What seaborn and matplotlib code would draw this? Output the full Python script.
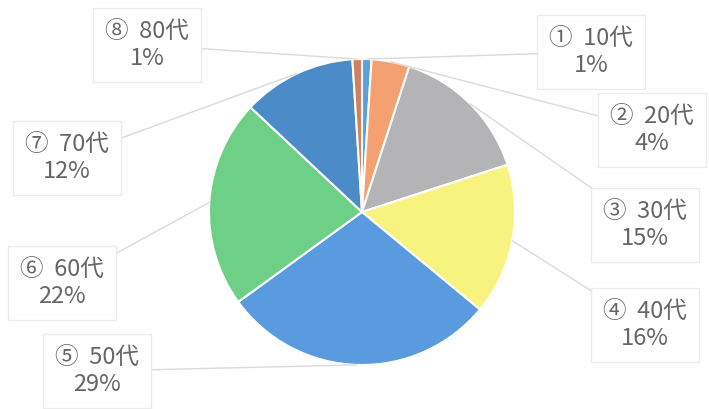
import numpy as np
import matplotlib
matplotlib.use("Agg")
import matplotlib.pyplot as plt
import seaborn as sns

# data (clockwise from 12 o'clock)
ages = ["10代", "20代", "30代", "40代", "50代", "60代", "70代", "80代"]
marks = ["①", "②", "③", "④", "⑤", "⑥", "⑦", "⑧"]
shares = [1, 4, 15, 16, 29, 22, 12, 1]

colors = ["#5ba0dc", "#f4a070", "#b4b4b6", "#f8f27e",
          "#5a9be0", "#6ecf86", "#4b8cc8", "#d08060"]

# label centres in pixel space (x, y from top)
label_xy = [(591, 52), (652, 130), (645, 225), (645, 325),
            (97, 371), (62, 283), (67, 158), (147, 45)]

sns.set_theme(style="white")
plt.rcParams["font.family"] = ["Noto Sans CJK JP", "DejaVu Sans"]

W, H = 709, 409
fig = plt.figure(figsize=(W / 100, H / 100), dpi=100)
ax = fig.add_axes([0, 0, 1, 1])

cx, cy, r = 362, H - 212, 153
wedges, _ = ax.pie(shares, colors=colors, startangle=90, counterclock=False,
                   center=(cx, cy), radius=r, frame=True,
                   wedgeprops=dict(edgecolor="white", linewidth=1.5))
ax.set_xlim(0, W)
ax.set_ylim(0, H)
ax.set_aspect("equal")
ax.axis("off")

for w, mk, age, pct, (lx, ly) in zip(wedges, marks, ages, shares, label_xy):
    ang = np.deg2rad((w.theta1 + w.theta2) / 2)
    ex, ey = cx + r * np.cos(ang), cy + r * np.sin(ang)
    ty = H - ly
    ax.annotate(f"{mk}  {age}\n{pct}%", xy=(ex, ey), xytext=(lx, ty),
                ha="center", va="center", fontsize=17, color="#666666",
                linespacing=1.2,
                bbox=dict(boxstyle="square,pad=0.5", fc="white",
                          ec="#ececec", lw=1),
                arrowprops=dict(arrowstyle="-", color="#dadada", lw=1,
                                shrinkA=0, shrinkB=0))

fig.savefig("out.png", dpi=100)
